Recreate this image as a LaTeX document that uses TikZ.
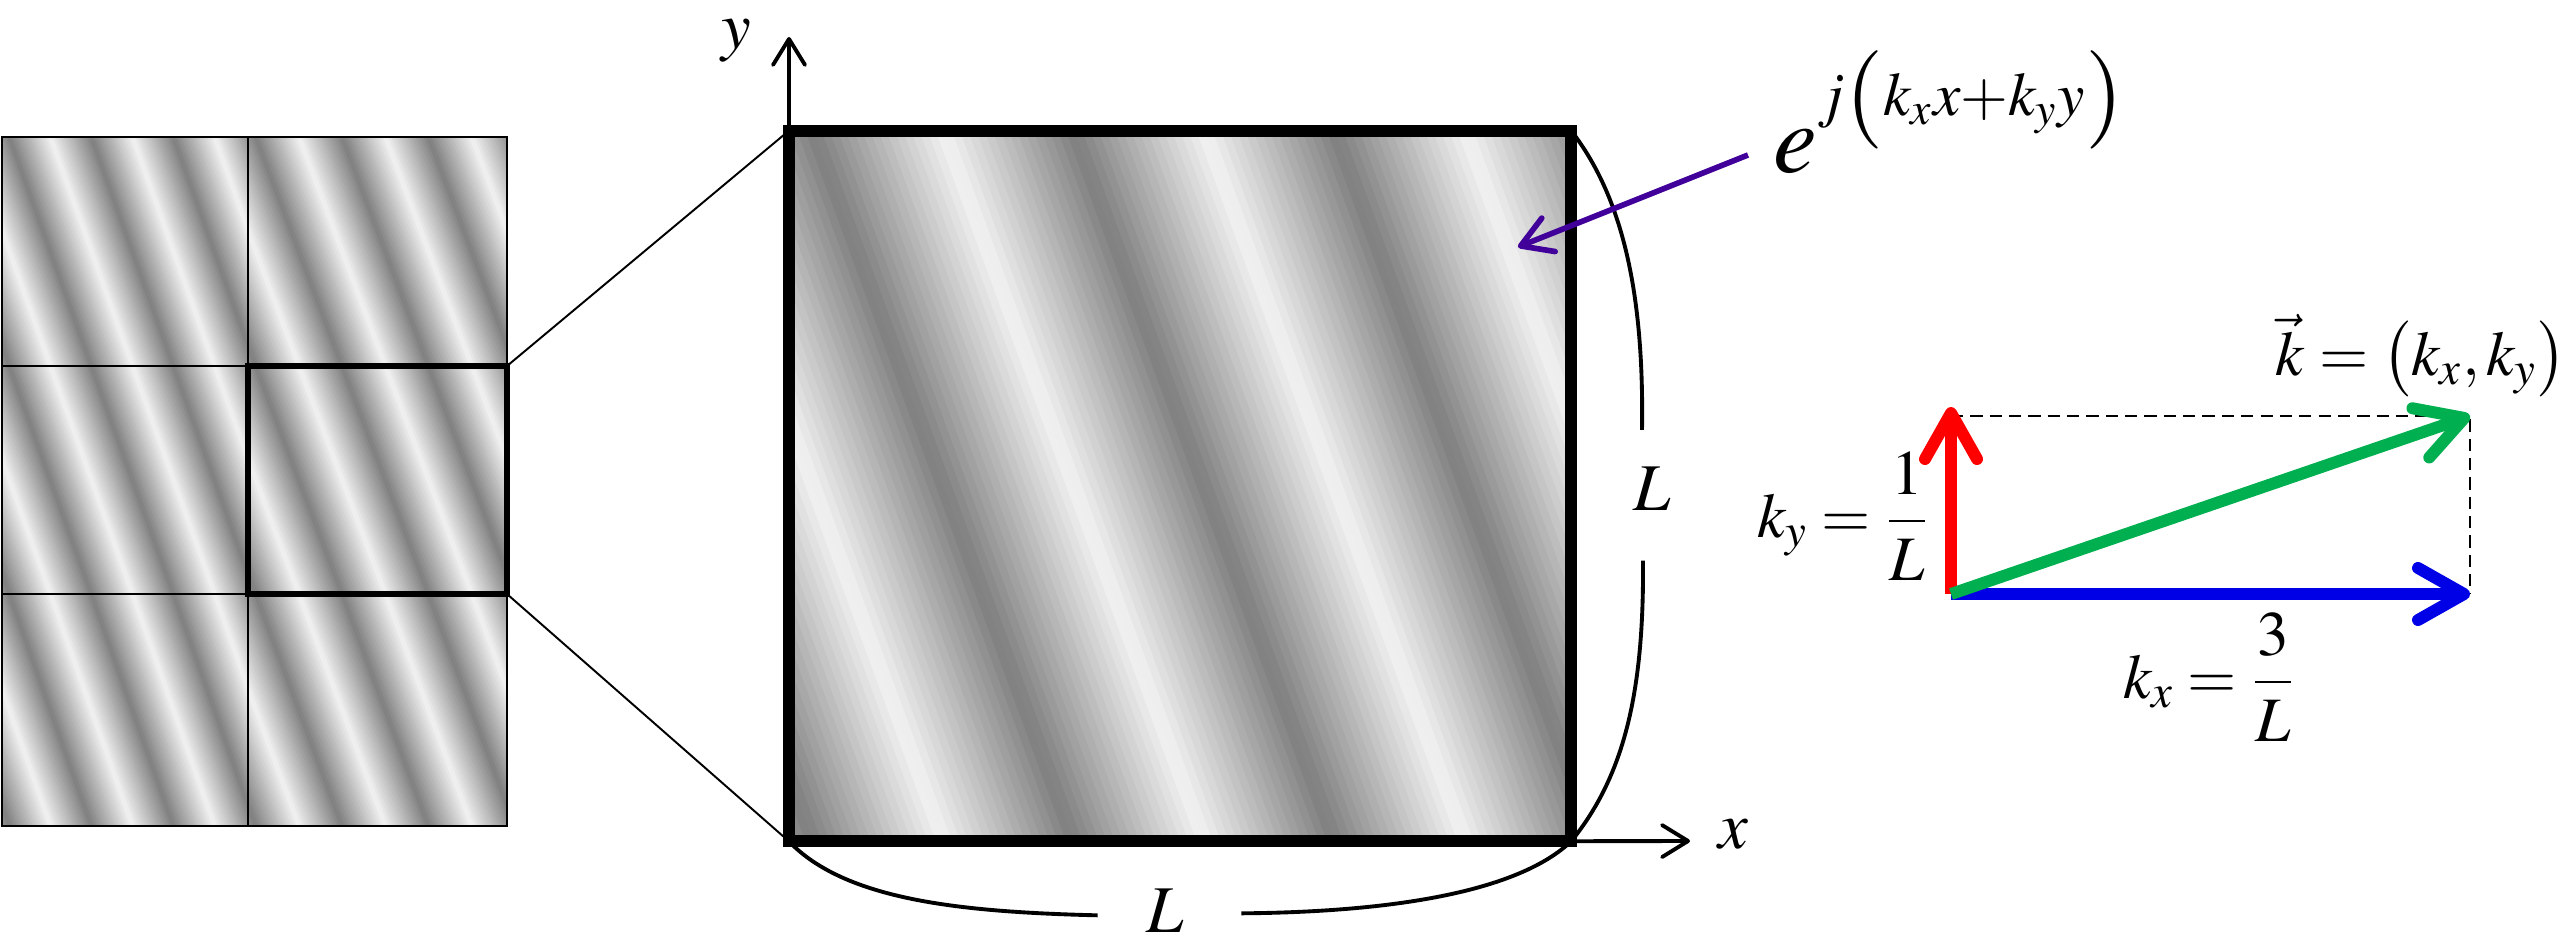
\documentclass[tikz,border=0pt]{standalone}
\usepackage{mathptmx}
\usepackage{tikz}
\usetikzlibrary{positioning}
\usetikzlibrary{calc}
\usetikzlibrary{arrows.meta}
\DeclareMathSizes{28}{28}{17.5}{13}

\definecolor{arrowpurple}{RGB}{64,0,153}
\definecolor{kxblue}{RGB}{0,0,230}
\definecolor{kgreen}{RGB}{0,176,80}

\begin{document}
\begin{tikzpicture}[x=0.01cm, y=-0.01cm,
    lbl/.style={inner sep=0pt, font=\fontsize{19}{22}\selectfont},
    klbl/.style={inner sep=0pt, font=\fontsize{18}{21}\selectfont},
    sqframe/.style={draw, inner sep=0pt, outer sep=0pt},
    axisline/.style={line width=1.1pt, -{Straight Barb[length=2.6mm, width=3.2mm, round]}},
    kvec/.style={line width=3.4pt, -{Straight Barb[length=4.6mm, width=5.2mm, round]}},
    bracecurve/.style={line width=1.1pt},
    zoomline/.style={line width=.55pt}
]

    % one period cell of the plane wave, x0 y0 w h
    \newcommand*{\wavepanel}[4]{%
        \pgfmathsetmacro{\pw}{#3/100}%
        \pgfmathsetmacro{\pv}{-#4/100}%
        \begin{scope}[shift={(#1,#2)}, x=\pw cm, y=\pv cm]
            \clip (0,0) rectangle (1,1);
            \foreach \i in {0,...,127} {
                \pgfmathsetmacro{\wph}{-1+\i/32}
                \pgfmathsetmacro{\blk}{5+45*abs(2*mod(\wph+1.925625,1)-1)}
                \fill[black!\blk] ({\wph/3},0) -- ({(\wph+0.042)/3},0)
                    -- ({(\wph+1.042)/3},1) -- ({(\wph+1)/3},1) -- cycle;
            }
        \end{scope}}
    \newcommand*{\bigstrut}[2]{\vrule height #1 depth #2 width 0pt}

    \useasboundingbox (0,0) rectangle (2561,942);

    % Tiles
    \foreach \tx/\tw in {2/246, 248/259} {
        \foreach \ty/\th in {137/229, 366/228, 594/232} {
            \wavepanel{\tx}{\ty}{\tw}{\th}
            \draw[line width=.6pt] (\tx,\ty) rectangle ++(\tw,\th);
        }
    }
    \node[sqframe, line width=1.5pt, minimum width=2.59cm, minimum height=2.28cm] (cell) at (377.5,480) {};

    % Box
    \wavepanel{789}{131}{782}{710}
    \node[sqframe, line width=3.3pt, minimum width=7.82cm, minimum height=7.10cm] (sq) at (1180,486) {};

    \draw[zoomline] (cell.north east) -- (sq.north west);
    \draw[zoomline] (cell.south east) -- (sq.south west);

    % Axis
    \coordinate (ytip) at (789,37);
    \coordinate (xtip) at (1690,841);
    \draw[axisline] (sq.south west) -- (ytip);
    \draw[axisline] (sq.south east) -- (xtip);
    \node[lbl, anchor=base] (ylbl) at (736,48) {$y$};
    \node[lbl, anchor=base] (xlbl) at (1733,848) {$x$};

    % Braces
    \node[lbl, anchor=base] (Lright) at (1652,510) {$L$};
    \node[lbl, anchor=base] (Lbottom) at (1165,932) {$L$};
    \draw[bracecurve] (sq.north east) .. controls (1625,200) and (1644,300) .. ($(Lright.north)+(-10,-36)$);
    \draw[bracecurve] ($(Lright.south)+(-9,50)$) .. controls (1644,690) and (1625,775) .. (sq.south east);
    \draw[bracecurve] (sq.south west) .. controls (845,900) and (960,912) .. ($(Lbottom.west)+(-48,5)$);
    \draw[bracecurve] ($(Lbottom.east)+(57,3)$) .. controls (1400,912) and (1520,890) .. (sq.south east);

    % Wave
    \node[anchor=base west, inner sep=0pt, font=\fontsize{28}{32}\selectfont] (wave) at (1773,172)
        {$e^{\raisebox{6pt}{$\scriptstyle j\left(\bigstrut{14pt}{6pt}k_x x+k_y y\right)$}}$};
    \coordinate (wavetip) at (1518,247);
    \draw[line width=1.6pt, arrowpurple, -{Straight Barb[length=3mm, width=3.6mm, round]}]
        ($(wave.base west)+(-25,-17)$) -- (wavetip);

    % k vector
    \coordinate (korig) at (1951,594);
    \coordinate (kytip) at (1951,407);
    \coordinate (kxtip) at (2470,594);
    \coordinate (ktip) at (2470,416);
    \draw[line width=.6pt, dash pattern=on 3.5pt off 2pt] (korig |- ktip) -- (ktip) -- (kxtip);
    \draw[kvec, red] (korig) -- (kytip);
    \draw[kvec, kxblue] (korig) -- (kxtip);
    \draw[kvec, kgreen] (korig) -- (ktip);

    \node[klbl, anchor=base] (kylbl) at (1843,537) {$k_y=\displaystyle\frac{1}{L}$};
    \node[klbl, anchor=base] (kxlbl) at (2209,698) {$k_x=\displaystyle\frac{3}{L}$};
    \node[klbl, anchor=base] (kvlbl) at (2421,375) {$\vec{k}=\left(\bigstrut{15pt}{7pt}k_x,k_y\right)$};

\end{tikzpicture}
\end{document}
